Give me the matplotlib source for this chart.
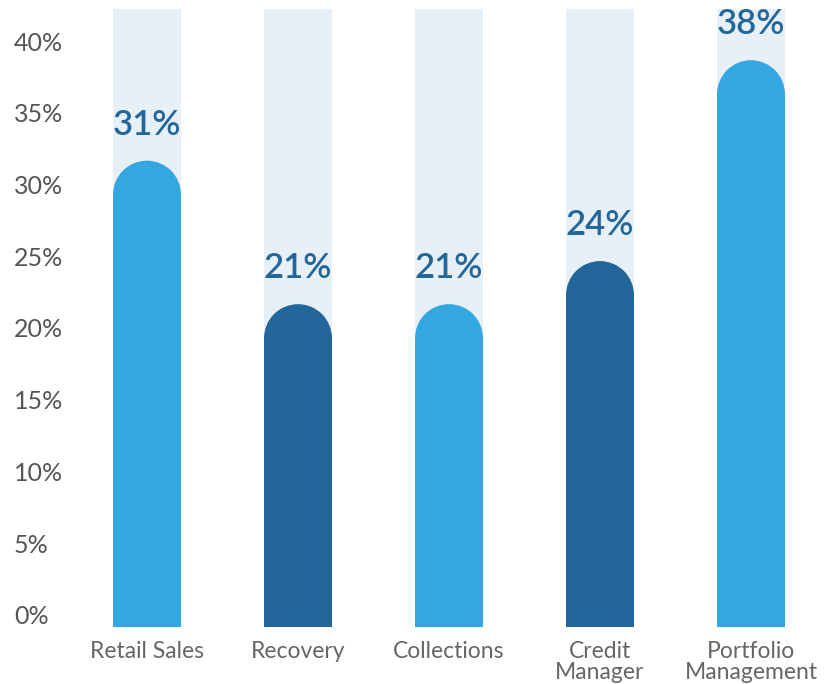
import matplotlib.pyplot as plt
from matplotlib.patches import Ellipse

categories = ['Retail Sales', 'Recovery', 'Collections', 'Credit\nManager', 'Portfolio\nManagement']
values = [31, 21, 21, 24, 38]
value_labels = ['31%', '21%', '21%', '24%', '38%']
tick_values = [0, 5, 10, 15, 20, 25, 30, 35, 40]
tick_labels = ['0%', '5%', '10%', '15%', '20%', '25%', '30%', '35%', '40%']

LIGHT = '#33a7df'
DARK = '#236699'
BG = '#e8f0f7'
colors = [LIGHT, DARK, LIGHT, DARK, LIGHT]

plt.rcParams['font.family'] = ['Lato', 'DejaVu Sans']

W, H = 828, 684
fig = plt.figure(figsize=(W / 100, H / 100), dpi=100)
ax = fig.add_axes([71.5 / W, (H - 627) / H, 755 / W, 618 / H])

ymin, ymax = -0.70, 42.37
ax.set_xlim(-0.5, len(categories) - 0.5)
ax.set_ylim(ymin, ymax)

bar_w = 0.45
x = list(range(len(categories)))

# background columns
ax.bar(x, ymax - ymin, bottom=ymin, width=bar_w, color=BG, linewidth=0, zorder=1)

# radius of the rounded cap in data units
px_per_y = 618 / (ymax - ymin)
px_per_x = 755 / len(categories)
r_y = bar_w * px_per_x / 2 / px_per_y
pad = 0.8

for xi, v, c, lab in zip(x, values, colors, value_labels):
    top = v + pad
    ax.bar(xi, top - r_y - ymin, bottom=ymin, width=bar_w, color=c, linewidth=0, zorder=2)
    ax.add_patch(Ellipse((xi, top - r_y), bar_w, 2 * r_y, facecolor=c, linewidth=0, zorder=2))
    ax.text(xi, v + 3.3, lab, ha='center', va='center', fontsize=25,
            fontweight='semibold', color=DARK, zorder=3)

for t, lab in zip(tick_values, tick_labels):
    fig.text(14 / W, ax.transData.transform((0, t))[1] / H, lab, ha='left', va='center',
             fontsize=18, color='#555555')

for xi, cat in zip(x, categories):
    ax.annotate(cat, (xi, ymin), xytext=(0, -14), textcoords='offset pixels',
                ha='center', va='top', fontsize=16.5, color='#666666', linespacing=1.0,
                annotation_clip=False)

ax.axis('off')

fig.savefig('out.png', dpi=100)
